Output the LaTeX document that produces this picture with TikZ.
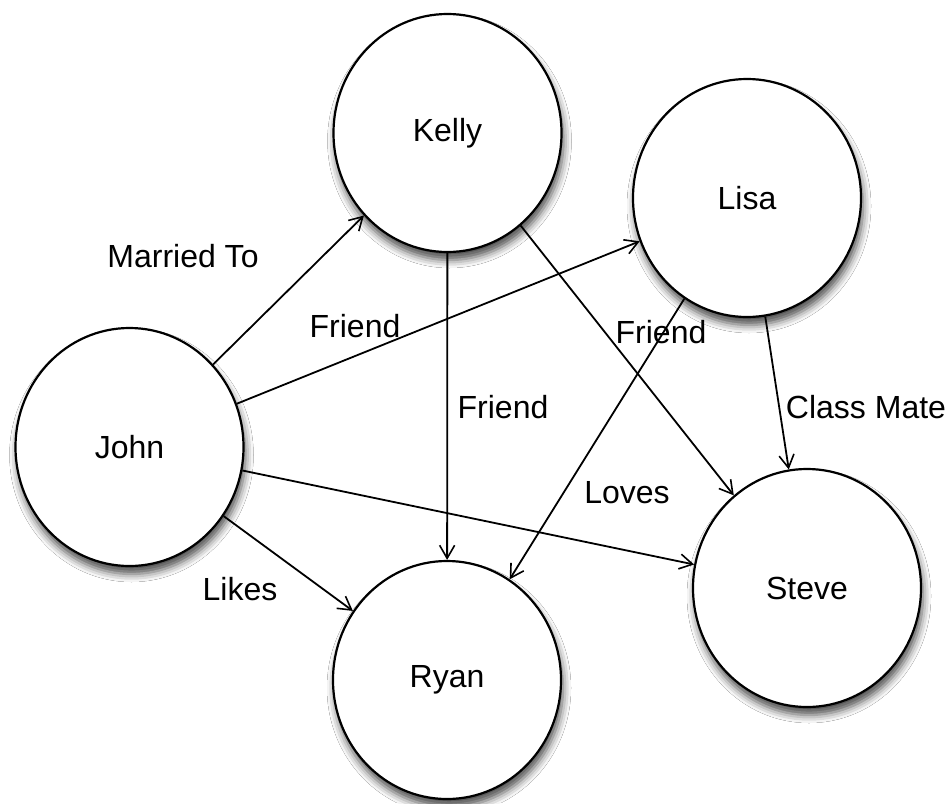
\documentclass[tikz,border=0pt]{standalone}
\usepackage{fontspec}
\setmainfont{Liberation Sans}
\usetikzlibrary{shapes.geometric,arrows.meta,shadows.blur}
\begin{document}
\begin{tikzpicture}[x=1pt,y=-1pt,
  person/.style={ellipse,draw=black,line width=2.2pt,fill=white,
    minimum width=228pt,minimum height=238pt,inner sep=0pt,
    font=\fontsize{32}{38}\selectfont,
    blur shadow={shadow xshift=2pt,shadow yshift=-8pt,shadow blur radius=8pt,shadow opacity=70}},
  rel/.style={draw=black,line width=1.8pt,-{Straight Barb[length=13pt,width=15pt,line width=1.6pt]}},
  lbl/.style={font=\fontsize{32}{38}\selectfont,inner sep=0pt}]
\useasboundingbox (0,0) rectangle (947,803);
\fill[white] (0,0) rectangle (947,803);
\node[person] (kelly) at (447.5,133) {Kelly};
\node[person] (lisa)  at (747,198)   {Lisa};
\node[person] (john)  at (129.5,447) {John};
\node[person] (ryan)  at (447,680)   {Ryan};
\node[person] (steve) at (807,588)   {Steve};
\draw[rel] (john) -- (kelly);
\draw[rel] (john) -- (lisa);
\draw[rel] (john) -- (steve);
\draw[rel] (john) -- (ryan);
\draw[rel] (kelly) -- (ryan);
\draw[rel] (kelly) -- (steve);
\draw[rel] (lisa) -- (ryan);
\draw[rel] (lisa) -- (steve);
\node[lbl] (lmarried) at (183,256) {Married To};
\node[lbl] (lfriend1) at (355,326) {Friend};
\node[lbl] (lfriend2) at (503,407) {Friend};
\node[lbl] (lfriend3) at (661,332) {Friend};
\node[lbl] (lclass)   at (866,407) {Class Mate};
\node[lbl] (lloves)   at (627,493) {Loves};
\node[lbl] (llikes)   at (240,589) {Likes};
\end{tikzpicture}
\end{document}
